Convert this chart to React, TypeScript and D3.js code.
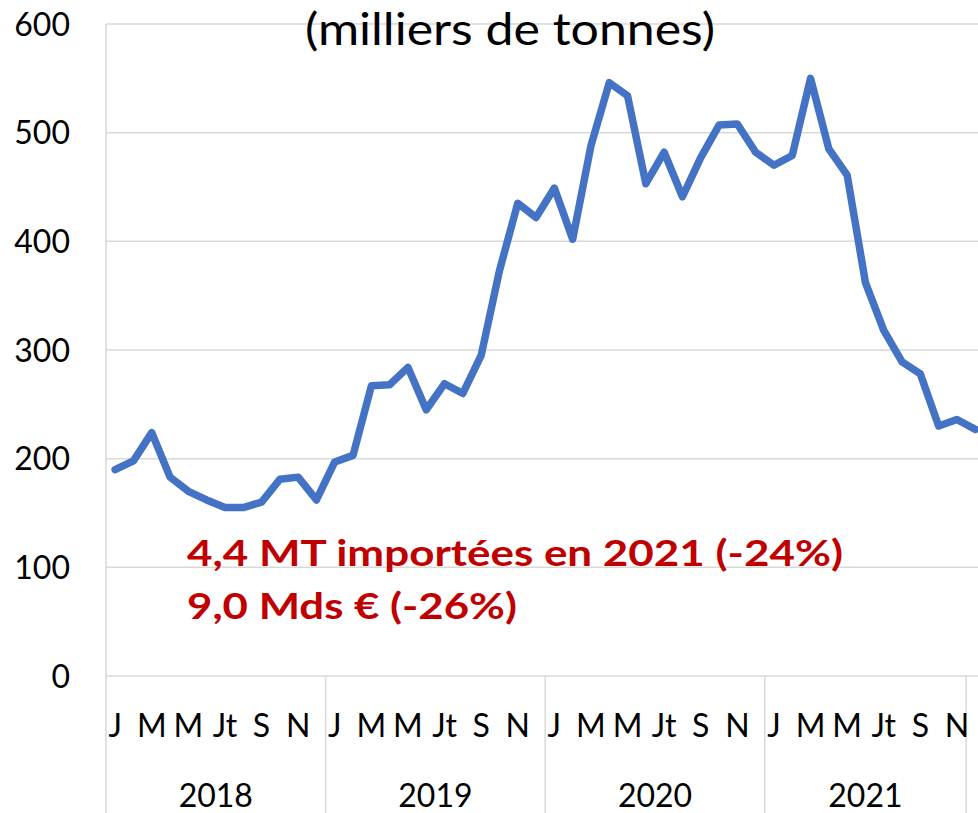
import React from "react";
import * as d3 from "d3";

const years = ["2018", "2019", "2020", "2021"];
const monthNames = ["J", "F", "M", "A", "M", "J", "Jt", "A", "S", "O", "N", "D"];
const yTicks = [0, 100, 200, 300, 400, 500, 600];

const values2018 = [190, 198, 224, 183, 170, 162, 155, 155, 160, 181, 183, 162];
const values2019 = [197, 203, 267, 268, 284, 245, 269, 260, 295, 373, 435, 422];
const values2020 = [449, 402, 488, 546, 534, 453, 482, 441, 477, 507, 508, 482];
const values2021 = [470, 479, 550, 485, 461, 362, 318, 289, 278, 230, 236, 227];

const titleText = "(milliers de tonnes)";
const noteLines = ["4,4 MT importées en 2021 (-24%)", "9,0 Mds € (-26%)"];

// group boundaries in month indices (2021 group shows Jan-Nov, December falls in a cut-off group)
const groupBounds = [0, 12, 24, 36, 47, 48];

const W = 978;
const H = 813;

export default function App() {
  const values = [...values2018, ...values2019, ...values2020, ...values2021];
  const x = d3.scaleLinear().domain([0, 48]).range([106, 106 + 48 * 18.3]);
  const y = d3.scaleLinear().domain([0, 600]).range([676, 24]);
  const line = d3
    .line<number>()
    .x((_, i) => x(i + 0.5))
    .y((d) => y(d));

  const font = "Lato, 'Open Sans', sans-serif";
  const grid = "#D9D9D9";

  const monthLabels: { label: string; i: number }[] = [];
  values.forEach((_, i) => {
    if (i % 2 === 0) monthLabels.push({ label: monthNames[i % 12], i });
  });

  return (
    <svg
      width={W}
      height={H}
      style={{ position: "absolute", left: 0, top: 0, background: "#fff" }}
      fontFamily={font}
    >
      <rect x={0} y={0} width={W} height={H} fill="#fff" />
      {yTicks.map((t) => (
        <line key={t} x1={x(0)} x2={W} y1={y(t)} y2={y(t)} stroke={grid} strokeWidth={1.5} />
      ))}
      <line x1={x(0)} x2={x(0)} y1={y(600)} y2={H} stroke={grid} strokeWidth={1.5} />
      {groupBounds.slice(1, 5).map((b) => (
        <line key={b} x1={x(b)} x2={x(b)} y1={y(0)} y2={H} stroke={grid} strokeWidth={1.5} />
      ))}
      {yTicks.map((t) => (
        <text key={t} x={70} y={y(t) + 11.5} textAnchor="end" fontSize={32} fill="#000">
          {t}
        </text>
      ))}
      {monthLabels.map((m) => (
        <text key={m.i} x={x(m.i + 0.5)} y={737} textAnchor="middle" fontSize={32} fill="#000">
          {m.label}
        </text>
      ))}
      {years.map((yr, k) => (
        <text
          key={yr}
          x={(x(groupBounds[k]) + x(groupBounds[k + 1])) / 2}
          y={807}
          textAnchor="middle"
          fontSize={32}
          fill="#000"
        >
          {yr}
        </text>
      ))}
      <path
        d={line(values) || ""}
        fill="none"
        stroke="#4472C4"
        strokeWidth={7.5}
        strokeLinejoin="round"
        strokeLinecap="round"
      />
      <text x={305} y={45} fontSize={45} fill="#000" textLength={410} lengthAdjust="spacingAndGlyphs">
        {titleText}
      </text>
      <text
        x={187}
        y={566}
        fontSize={37}
        fontWeight="bold"
        fill="#C00000"
        textLength={656}
        lengthAdjust="spacingAndGlyphs"
      >
        {noteLines[0]}
      </text>
      <text
        x={187}
        y={619}
        fontSize={37}
        fontWeight="bold"
        fill="#C00000"
        textLength={330}
        lengthAdjust="spacingAndGlyphs"
      >
        {noteLines[1]}
      </text>
    </svg>
  );
}
